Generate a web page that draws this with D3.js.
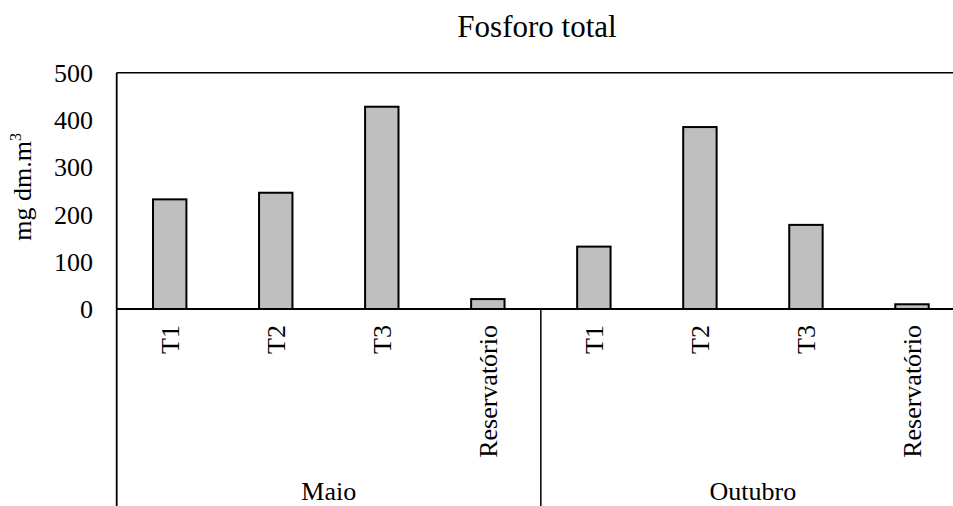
<!DOCTYPE html>
<html>
<head>
<meta charset="utf-8">
<script src="https://cdn.jsdelivr.net/npm/d3@7"></script>
<style>
  html, body { margin: 0; padding: 0; background: #fff; }
  svg { display: block; }
  text { font-family: "Liberation Serif", "Times New Roman", Times, serif; }
</style>
</head>
<body>
<svg id="chart" width="953" height="506" font-family="Liberation Serif, Times New Roman, serif"></svg>
<script>
const title = "Fosforo total";
const yLabel = "mg dm.m";
const yLabelSup = "3";
const groups = ["Maio", "Outubro"];
const categories = ["T1", "T2", "T3", "Reservatório"];
const maioValues = [232, 246, 428, 21];
const outubroValues = [132, 385, 178, 10];
const yTicks = [0, 100, 200, 300, 400, 500];

(function () {
const FONT = "Liberation Serif, Times New Roman, serif";
const seriesByGroup = { "Maio": maioValues, "Outubro": outubroValues };
const data = [];
groups.forEach(g => categories.forEach((c, i) => data.push({ group: g, cat: c, key: g + "|" + c, value: seriesByGroup[g][i] })));

const svg = d3.select("#chart");
const pLeft = 116.7, pRight = 965, pTop = 72.7, zeroY = 309, pBottom = 506;

const x = d3.scaleBand()
  .domain(data.map(d => d.key))
  .range([pLeft, pRight])
  .paddingInner(0.685)
  .paddingOuter(0.3425);
const y = d3.scaleLinear().domain([0, 500]).range([zeroY, pTop]);

// title
svg.append("text")
  .attr("x", 537).attr("y", 37)
  .attr("text-anchor", "middle")
  .attr("font-family", FONT)
  .attr("font-size", 31)
  .text(title);

// y axis title
const yt = svg.append("text")
  .attr("transform", `translate(31,${(zeroY + pTop) / 2 - 4}) rotate(-90)`)
  .attr("text-anchor", "middle")
  .attr("font-family", FONT)
  .attr("font-size", 26);
yt.append("tspan").text(yLabel);
yt.append("tspan").attr("font-size", 16).attr("dy", -10).text(yLabelSup);

// y tick labels
svg.append("g").selectAll("text").data(yTicks).join("text")
  .attr("x", 93).attr("y", d => y(d))
  .attr("dy", "0.35em")
  .attr("text-anchor", "end")
  .attr("font-family", FONT)
  .attr("font-size", 26)
  .text(d => d);

// bars
svg.append("g").selectAll("rect").data(data).join("rect")
  .attr("x", d => x(d.key))
  .attr("y", d => y(d.value))
  .attr("width", x.bandwidth())
  .attr("height", d => y(0) - y(d.value))
  .attr("fill", "#bfbfbf")
  .attr("stroke", "#000")
  .attr("stroke-width", 2);

// top border
svg.append("line")
  .attr("x1", pLeft).attr("x2", 953)
  .attr("y1", y(500)).attr("y2", y(500))
  .attr("stroke", "#000").attr("stroke-width", 1.6);

// zero line
svg.append("line")
  .attr("x1", pLeft).attr("x2", 953)
  .attr("y1", y(0)).attr("y2", y(0))
  .attr("stroke", "#000").attr("stroke-width", 1.8);

// left axis line
svg.append("line")
  .attr("x1", pLeft).attr("x2", pLeft)
  .attr("y1", pTop).attr("y2", pBottom)
  .attr("stroke", "#000").attr("stroke-width", 1.8);

// group dividers
const step = x.step();
groups.forEach((g, gi) => {
  if (gi === 0) return;
  const gx = pLeft + gi * categories.length * step;
  svg.append("line")
    .attr("x1", gx).attr("x2", gx)
    .attr("y1", zeroY).attr("y2", pBottom)
    .attr("stroke", "#000").attr("stroke-width", 1.5);
});

// category labels (rotated)
svg.append("g").selectAll("text").data(data).join("text")
  .attr("transform", d => `translate(${x(d.key) + x.bandwidth() / 2 + 9},325) rotate(-90)`)
  .attr("text-anchor", "end")
  .attr("font-family", FONT)
  .attr("font-size", 26)
  .text(d => d.cat);

// group labels
svg.append("g").selectAll("text").data(groups).join("text")
  .attr("x", (g, gi) => pLeft + (gi + 0.5) * categories.length * step)
  .attr("y", 500)
  .attr("text-anchor", "middle")
  .attr("font-family", FONT)
  .attr("font-size", 26)
  .text(g => g);
})();
</script>
</body>
</html>
